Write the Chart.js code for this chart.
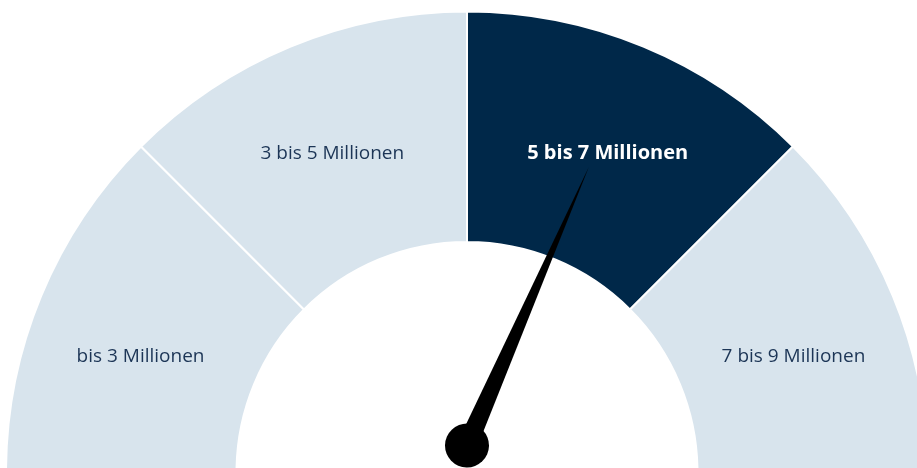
<!DOCTYPE html>
<html>
<head>
<meta charset="utf-8">
<script src="https://cdn.jsdelivr.net/npm/chart.js@4"></script>
<style>
  html, body { margin: 0; padding: 0; background: #ffffff; overflow: hidden; }
  #wrap { width: 917px; height: 468px; position: relative; }
</style>
</head>
<body>
<div id="wrap"><canvas id="c"></canvas></div>
<script>
// ---- data ----
const categories = ['bis 3 Millionen', '3 bis 5 Millionen', '5 bis 7 Millionen', '7 bis 9 Millionen'];
const segmentValues = [2, 2, 2, 2];          // each band spans 2 million
const scaleMin = 1;
const scaleMax = 9;
const needleValue = 6.05;                     // needle reading (millions)
const highlightIndex = 2;                     // active band

// ---- styles ----
const lightColor = '#d8e4ed';
const darkColor = '#002849';
const textColor = '#1c3556';
const labelAngleNudge = [-2.8, 0, 0, 2.8];    // degrees, visual tweak of label placement
const labelShiftX = [0, -2, 8, 0];            // px, visual tweak

const labelsPlugin = {
  id: 'bandLabels',
  afterDatasetsDraw(chart) {
    const ctx = chart.ctx;
    const arcs = chart.getDatasetMeta(0).data;
    ctx.save();
    ctx.textAlign = 'center';
    ctx.textBaseline = 'middle';
    arcs.forEach((arc, i) => {
      const p = arc.getProps(['x', 'y', 'startAngle', 'endAngle', 'innerRadius', 'outerRadius'], true);
      const mid = (p.startAngle + p.endAngle) / 2 + labelAngleNudge[i] * Math.PI / 180;
      const r = (p.innerRadius + p.outerRadius) / 2 + 1;
      const x = p.x + Math.cos(mid) * r + labelShiftX[i];
      const y = p.y + Math.sin(mid) * r + 1;
      const active = i === highlightIndex;
      ctx.font = active ? '700 20px "Open Sans", sans-serif' : '400 19px "Open Sans", sans-serif';
      ctx.fillStyle = active ? '#ffffff' : textColor;
      ctx.fillText(categories[i], x, y);
    });
    ctx.restore();
  }
};

const needlePlugin = {
  id: 'needle',
  afterDatasetsDraw(chart) {
    const ctx = chart.ctx;
    const arc = chart.getDatasetMeta(0).data[0];
    const p = arc.getProps(['x', 'y', 'outerRadius'], true);
    const frac = (needleValue - scaleMin) / (scaleMax - scaleMin);
    const ang = Math.PI + frac * Math.PI;
    const px = p.x;
    const py = p.y - 27;
    const len = 304;
    const half = 10;
    ctx.save();
    ctx.translate(px, py);
    ctx.rotate(ang);
    ctx.fillStyle = '#000000';
    ctx.beginPath();
    ctx.moveTo(0, -half);
    ctx.lineTo(len, 0);
    ctx.lineTo(0, half);
    ctx.closePath();
    ctx.fill();
    ctx.beginPath();
    ctx.arc(0, 0, 22, 0, Math.PI * 2);
    ctx.fill();
    ctx.restore();
  }
};

new Chart(document.getElementById('c'), {
  type: 'doughnut',
  data: {
    labels: categories,
    datasets: [{
      data: segmentValues,
      backgroundColor: categories.map((_, i) => i === highlightIndex ? darkColor : lightColor),
      borderColor: '#ffffff',
      borderWidth: 2,
      hoverOffset: 0
    }]
  },
  options: {
    responsive: true,
    maintainAspectRatio: false,
    animation: false,
    events: [],
    rotation: -90,
    circumference: 180,
    cutout: '50%',
    radius: 461,
    layout: { padding: { top: 16, left: 17, right: 0, bottom: 0 } },
    plugins: {
      legend: { display: false },
      tooltip: { enabled: false }
    }
  },
  plugins: [labelsPlugin, needlePlugin]
});
</script>
</body>
</html>
